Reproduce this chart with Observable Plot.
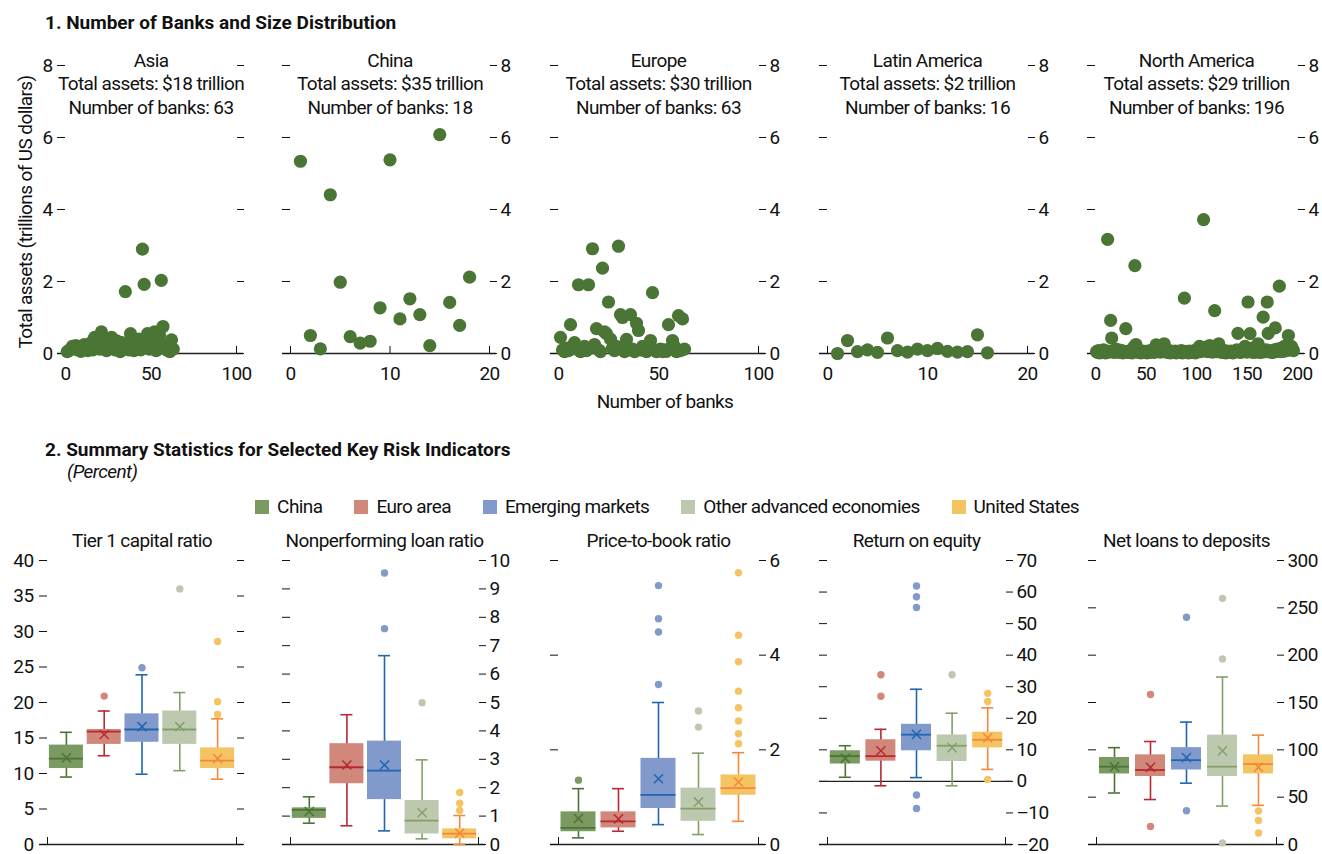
<!DOCTYPE html>
<html><head><meta charset="utf-8">
<script src="https://cdn.jsdelivr.net/npm/d3@7"></script>
<script src="https://cdn.jsdelivr.net/npm/@observablehq/plot@0.6"></script>
<style>
html,body{margin:0;padding:0;background:#fff;overflow:hidden;}
#root{position:relative;width:1322px;height:854px;font-family:Roboto,"Liberation Sans",sans-serif;color:#111;}
.abs{position:absolute;white-space:nowrap;line-height:1;}
.lsp{letter-spacing:-0.6px;}
.legend{position:absolute;left:0;width:1334px;top:497px;display:flex;justify-content:center;gap:32px;font-size:19px;line-height:19px;letter-spacing:-0.6px;}
.legend span.sw{display:inline-block;width:14px;height:14px;margin-right:8px;vertical-align:-1px;}
</style></head><body><div id="root"></div>
<script>
// ---------- DATA: panel 1 ----------
const regions = ["Asia", "China", "Europe", "Latin America", "North America"];
const totalAssets = [18, 35, 30, 2, 29];
const bankCounts = [63, 18, 63, 16, 196];
const xMax = [100, 20, 100, 20, 200];
const xTicks = [[0, 50, 100], [0, 10, 20], [0, 50, 100], [0, 10, 20], [0, 50, 100, 150, 200]];
const topYTicks = [0, 2, 4, 6, 8];

const asiaAssets = [0.05, 0.08, 0.12, 0.2, 0.15, 0.22, 0.1, 0.18, 0.06, 0.2,
  0.25, 0.12, 0.08, 0.15, 0.3, 0.1, 0.45, 0.2, 0.35, 0.12,
  0.6, 0.25, 0.4, 0.08, 0.3, 0.15, 0.45, 0.2, 0.1, 0.35,
  0.25, 0.05, 0.3, 0.12, 1.72, 0.2, 0.1, 0.55, 0.3, 0.08,
  0.22, 0.15, 0.4, 0.1, 2.9, 1.92, 0.3, 0.55, 0.12, 0.45,
  0.2, 0.6, 0.08, 0.35, 0.5, 2.03, 0.75, 0.15, 0.1, 0.25,
  0.05, 0.38, 0.12];
const chinaAssets = [5.34, 0.5, 0.13, 4.41, 1.98, 0.47, 0.29, 0.34, 1.27, 5.38,
  0.96, 1.52, 1.08, 0.22, 6.08, 1.42, 0.78, 2.12];
const europeAssets = [0.45, 0.1, 0.05, 0.15, 0.08, 0.8, 0.2, 0.3, 0.12, 1.91,
  0.05, 0.1, 0.2, 0.08, 1.91, 0.15, 2.91, 0.25, 0.69, 0.1,
  0.05, 2.37, 0.6, 0.55, 1.43, 0.4, 0.15, 0.08, 0.2, 2.98,
  1.08, 1.0, 0.05, 0.39, 0.1, 1.08, 0.12, 0.05, 0.84, 0.64,
  0.1, 0.2, 0.08, 0.05, 0.15, 0.36, 1.69, 0.1, 0.05, 0.08,
  0.12, 0.05, 0.1, 0.06, 0.8, 0.15, 0.36, 0.2, 0.05, 1.05,
  0.08, 0.96, 0.12];
const latamAssets = [0.0, 0.36, 0.05, 0.1, 0.03, 0.43, 0.08, 0.04, 0.12, 0.08,
  0.14, 0.06, 0.04, 0.05, 0.52, 0.02];
const northAmericaAssets = [
  0.05, 0.03, 0.08, 0.02, 0.04, 0.06, 0.03, 0.1, 0.05, 0.02,
  0.07, 3.17, 0.04, 0.06, 0.92, 0.43, 0.05, 0.03, 0.08, 0.12,
  0.04, 0.06, 0.1, 0.03, 0.05, 0.08, 0.02, 0.06, 0.04, 0.69,
  0.05, 0.03, 0.07, 0.04, 0.09, 0.02, 0.05, 0.18, 2.44, 0.25,
  0.06, 0.03, 0.08, 0.04, 0.02, 0.05, 0.07, 0.03, 0.04, 0.06,
  0.02, 0.05, 0.03, 0.08, 0.04, 0.06, 0.1, 0.03, 0.05, 0.24,
  0.12, 0.06, 0.2, 0.04, 0.15, 0.08, 0.05, 0.27, 0.1, 0.06,
  0.03, 0.05, 0.08, 0.02, 0.04, 0.06, 0.03, 0.05, 0.07, 0.02,
  0.04, 0.06, 0.03, 0.05, 0.08, 0.02, 0.04, 1.54, 0.06, 0.03,
  0.05, 0.02, 0.07, 0.04, 0.03, 0.06, 0.05, 0.08, 0.02, 0.04,
  0.06, 0.1, 0.2, 0.05, 0.15, 0.08, 3.72, 0.12, 0.18, 0.06,
  0.1, 0.05, 0.22, 0.08, 0.14, 0.04, 0.06, 1.19, 0.1, 0.05,
  0.08, 0.27, 0.12, 0.04, 0.06, 0.03, 0.05, 0.08, 0.02, 0.04,
  0.06, 0.03, 0.05, 0.07, 0.04, 0.02, 0.06, 0.05, 0.08, 0.1,
  0.56, 0.04, 0.06, 0.03, 0.05, 0.08, 0.12, 0.2, 0.06, 0.04,
  1.43, 0.08, 0.55, 0.05, 0.15, 0.03, 0.06, 0.1, 0.04, 0.08,
  0.27, 0.05, 0.03, 0.06, 0.04, 1.01, 0.08, 0.05, 0.1, 1.43,
  0.56, 0.06, 0.04, 0.08, 0.05, 0.03, 0.1, 0.71, 0.06, 0.12,
  0.08, 1.87, 0.05, 0.15, 0.1, 0.06, 0.2, 0.12, 0.08, 0.15,
  0.5, 0.1, 0.18, 0.2, 0.12, 0.08];
const regionAssets = [asiaAssets, chinaAssets, europeAssets, latamAssets, northAmericaAssets];

// ---------- DATA: panel 2 ----------
const groups = ["China", "Euro area", "Emerging markets", "Other advanced economies", "United States"];
const indicators = ["Tier 1 capital ratio", "Nonperforming loan ratio", "Price-to-book ratio", "Return on equity", "Net loans to deposits"];

const tier1Low = [9.5, 12.5, 9.9, 10.4, 9.2];
const tier1Q1 = [10.7, 14.1, 14.4, 14.1, 10.7];
const tier1Median = [12.1, 15.9, 16.2, 16.2, 11.8];
const tier1Q3 = [14.0, 16.2, 18.4, 18.8, 13.6];
const tier1High = [15.8, 18.8, 23.9, 21.4, 17.7];
const tier1Mean = [12.2, 15.5, 16.6, 16.6, 12.1];
const tier1Outliers = [[], [20.9], [24.9], [36.0], [28.6, 20.1, 18.3]];
const tier1Ticks = [0, 5, 10, 15, 20, 25, 30, 35, 40];

const nplLow = [0.75, 0.66, 0.48, 0.2, 0.0];
const nplQ1 = [0.92, 2.14, 1.58, 0.37, 0.2];
const nplMedian = [1.22, 2.72, 2.6, 0.84, 0.38];
const nplQ3 = [1.29, 3.55, 3.64, 1.55, 0.55];
const nplHigh = [1.68, 4.57, 6.65, 2.98, 1.02];
const nplMean = [1.16, 2.8, 2.8, 1.12, 0.4];
const nplOutliers = [[], [], [9.56, 7.6], [4.99], [1.83, 1.45, 1.2]];
const nplTicks = [0, 1, 2, 3, 4, 5, 6, 7, 8, 9, 10];

const pbLow = [0.14, 0.28, 0.42, 0.21, 0.49];
const pbQ1 = [0.27, 0.35, 0.76, 0.49, 1.04];
const pbMedian = [0.35, 0.49, 1.05, 0.76, 1.19];
const pbQ3 = [0.69, 0.69, 1.82, 1.19, 1.47];
const pbHigh = [1.18, 1.18, 3.0, 1.93, 1.94];
const pbMean = [0.55, 0.54, 1.39, 0.9, 1.32];
const pbOutliers = [[1.36], [], [5.47, 4.77, 4.49, 3.38], [2.82, 2.48], [5.74, 4.42, 3.86, 3.24, 2.89, 2.61, 2.34, 2.13]];
const pbTicks = [0, 2, 4, 6];

const roeLow = [1.3, -1.4, 1.2, -1.4, 3.8];
const roeQ1 = [5.5, 6.4, 9.7, 6.3, 10.6];
const roeMedian = [8.0, 8.0, 14.8, 11.3, 13.2];
const roeQ3 = [9.7, 13.2, 18.1, 14.7, 15.6];
const roeHigh = [11.3, 16.5, 29.2, 21.6, 23.3];
const roeMean = [7.3, 9.7, 14.9, 10.7, 13.8];
const roeOutliers = [[], [33.8, 27.0], [61.9, 58.5, 55.1, -4.3, -8.6], [33.8], [27.9, 25.3, 0.6]];
const roeTicks = [-20, -10, 0, 10, 20, 30, 40, 50, 60, 70];

const nldLow = [54.4, 47.5, 64.8, 40.6, 41.3];
const nldQ1 = [74.5, 71.8, 78.7, 71.8, 74.5];
const nldMedian = [82.2, 78.7, 89.1, 82.2, 84.9];
const nldQ3 = [91.9, 94.7, 102.3, 115.5, 94.7];
const nldHigh = [102.3, 108.8, 129.3, 176.9, 115.5];
const nldMean = [82.0, 81.5, 91.9, 98.9, 81.5];
const nldOutliers = [[], [158.5, 19.0], [240, 35.7], [260, 196, 1.7], [35.4, 25.3, 12.1]];
const nldTicks = [0, 50, 100, 150, 200, 250, 300];

// ---------- STYLE / LAYOUT ----------
const FONT = 'Roboto,"Liberation Sans",sans-serif';
const dotGreen = "#4a7535";
const groupFill = ["#7a9a62", "#d1887b", "#8299cc", "#bdc9af", "#f5c462"];
const groupStroke = ["#4a7535", "#b52a33", "#1f65b1", "#84a06a", "#f5873a"];
const topX0 = [65, 290, 558, 827, 1095];
const topX1 = [236, 489, 758, 1027, 1297];
const botX0 = [47, 290, 558, 827, 1096];
const botX1 = [236, 478, 758, 1005, 1276];
const boxWidth = [34, 34, 35, 30, 30];
const plotStyle = {fontFamily: FONT, fontSize: "19px", letterSpacing: "-0.6px", background: "transparent", color: "#111", overflow: "visible"};

const root = document.getElementById("root");
function addText(txt, css, cls) {
  const d = document.createElement("div");
  d.className = "abs" + (cls ? " " + cls : ""); d.textContent = txt; Object.assign(d.style, css);
  root.appendChild(d); return d;
}
function addLayer(svg, top) {
  svg.style.position = "absolute"; svg.style.left = "0px"; svg.style.top = top + "px";
  root.appendChild(svg);
}
const blank = () => "";
const fmt = d => d < 0 ? "\u2013" + Math.abs(d) : String(d);

// ---------- Panel 1 ----------
function scatterPanel(k) {
  const data = regionAssets[k].map((v, i) => ({bank: i + 1, assets: v}));
  const leftLabels = k === 0;
  return Plot.plot({
    width: 1322, height: 380,
    marginLeft: topX0[k], marginRight: 1322 - topX1[k], marginTop: 25, marginBottom: 67,
    style: plotStyle,
    x: {domain: [0, xMax[k]], label: null},
    y: {domain: [0, 8], label: null},
    marks: [
      Plot.ruleY([0], {insetLeft: -8, insetRight: -7, stroke: "#222", strokeWidth: 1.4}),
      Plot.axisX({ticks: xTicks[k], tickSize: -7, tickFormat: blank, label: null}),
      Plot.axisX({ticks: xTicks[k], tickSize: 0, tickPadding: 13, label: null}),
      Plot.axisY({anchor: "left", ticks: topYTicks, tickSize: 8, tickPadding: 5, tickFormat: leftLabels ? fmt : blank, label: null}),
      Plot.axisY({anchor: "right", ticks: topYTicks, tickSize: 7, tickPadding: 4, tickFormat: leftLabels ? blank : fmt, label: null}),
      Plot.dot(data, {x: "bank", y: "assets", r: 6.6, fill: dotGreen}),
      Plot.text([k], {frameAnchor: "top", lineAnchor: "top", dy: -16, lineHeight: 1.26,
        text: i => `${regions[i]}\nTotal assets: $${totalAssets[i]} trillion\nNumber of banks: ${bankCounts[i]}`})
    ]
  });
}

// ---------- Panel 2 ----------
const boxStats = [
  {low: tier1Low, q1: tier1Q1, median: tier1Median, q3: tier1Q3, high: tier1High, mean: tier1Mean, outliers: tier1Outliers, ticks: tier1Ticks},
  {low: nplLow, q1: nplQ1, median: nplMedian, q3: nplQ3, high: nplHigh, mean: nplMean, outliers: nplOutliers, ticks: nplTicks},
  {low: pbLow, q1: pbQ1, median: pbMedian, q3: pbQ3, high: pbHigh, mean: pbMean, outliers: pbOutliers, ticks: pbTicks},
  {low: roeLow, q1: roeQ1, median: roeMedian, q3: roeQ3, high: roeHigh, mean: roeMean, outliers: roeOutliers, ticks: roeTicks},
  {low: nldLow, q1: nldQ1, median: nldMedian, q3: nldQ3, high: nldHigh, mean: nldMean, outliers: nldOutliers, ticks: nldTicks}
];

function boxPanel(k) {
  const s = boxStats[k];
  const rows = groups.map((g, i) => ({i, group: g, low: s.low[i], q1: s.q1[i], median: s.median[i], q3: s.q3[i], high: s.high[i], mean: s.mean[i]}));
  const outs = groups.flatMap((g, i) => s.outliers[i].map(v => ({i, group: g, v})));
  const ticks = s.ticks;
  const yDomain = [ticks[0], ticks[ticks.length - 1]];
  const step = (botX1[k] - botX0[k]) / groups.length;
  const inset = (step - boxWidth[k]) / 2;
  const capInset = (step - 12) / 2;
  const leftLabels = k === 0;
  const xa = d => d.i, xb = d => d.i + 1, xm = d => d.i + 0.5;
  const stroke = d => groupStroke[d.i], fill = d => groupFill[d.i];
  const marks = [
    Plot.ruleY([yDomain[0]], {insetLeft: -8, insetRight: -7, stroke: "#222", strokeWidth: 1.4}),
    Plot.axisX({ticks: [0, groups.length], tickSize: -7, tickFormat: blank, label: null}),
    Plot.axisY({anchor: "left", ticks, tickSize: 8, tickPadding: 6, tickFormat: leftLabels ? fmt : blank, label: null}),
    Plot.axisY({anchor: "right", ticks, tickSize: 7, tickPadding: 4, tickFormat: leftLabels ? blank : fmt, label: null}),
  ];
  if (yDomain[0] < 0) marks.push(Plot.ruleY([0], {insetLeft: -8, insetRight: -7, stroke: "#222", strokeWidth: 1.4}));
  marks.push(
    Plot.ruleX(rows, {x: xm, y1: "low", y2: "high", stroke, strokeWidth: 1.6}),
    Plot.ruleY(rows, {x1: xa, x2: xb, y: "low", insetLeft: capInset, insetRight: capInset, stroke, strokeWidth: 1.6}),
    Plot.ruleY(rows, {x1: xa, x2: xb, y: "high", insetLeft: capInset, insetRight: capInset, stroke, strokeWidth: 1.6}),
    Plot.rectY(rows, {x1: xa, x2: xb, y1: "q1", y2: "q3", fill, insetLeft: inset, insetRight: inset}),
    Plot.ruleY(rows, {x1: xa, x2: xb, y: "median", insetLeft: inset, insetRight: inset, stroke, strokeWidth: 1.8}),
    Plot.dot(rows, {x: xm, y: "mean", symbol: "times", r: 4.2, stroke, strokeWidth: 1.5}),
    Plot.dot(outs, {x: xm, y: "v", r: 3.7, fill}),
    Plot.text([indicators[k]], {frameAnchor: "top", lineAnchor: "top", dy: -27, text: d => d})
  );
  return Plot.plot({
    width: 1322, height: 334,
    marginLeft: botX0[k], marginRight: 1322 - botX1[k], marginTop: 40, marginBottom: 10,
    style: plotStyle,
    x: {domain: [0, groups.length], label: null},
    y: {domain: yDomain, label: null},
    color: {type: "identity"},
    marks
  });
}

// ---------- Assemble ----------
addText("1. Number of Banks and Size Distribution", {left: "45px", top: "13px", fontSize: "19px", fontWeight: "bold"});
addText("Total assets (trillions of US dollars)", {left: "25px", top: "212px", fontSize: "19px", transform: "translate(-50%,-50%) rotate(-90deg)"}, "lsp");
for (let k = 0; k < regions.length; k++) addLayer(scatterPanel(k), 40);
addText("Number of banks", {left: "665px", top: "392px", fontSize: "19px", transform: "translateX(-50%)"}, "lsp");

addText("2. Summary Statistics for Selected Key Risk Indicators", {left: "45px", top: "440px", fontSize: "19px", fontWeight: "bold"});
addText("(Percent)", {left: "67px", top: "462px", fontSize: "19px", fontStyle: "italic"}, "lsp");

const legend = document.createElement("div");
legend.className = "legend";
groups.forEach((g, i) => {
  const item = document.createElement("div");
  const sw = document.createElement("span"); sw.className = "sw"; sw.style.background = groupFill[i];
  item.appendChild(sw); item.appendChild(document.createTextNode(g));
  legend.appendChild(item);
});
root.appendChild(legend);

for (let k = 0; k < indicators.length; k++) addLayer(boxPanel(k), 520);
</script></body></html>
